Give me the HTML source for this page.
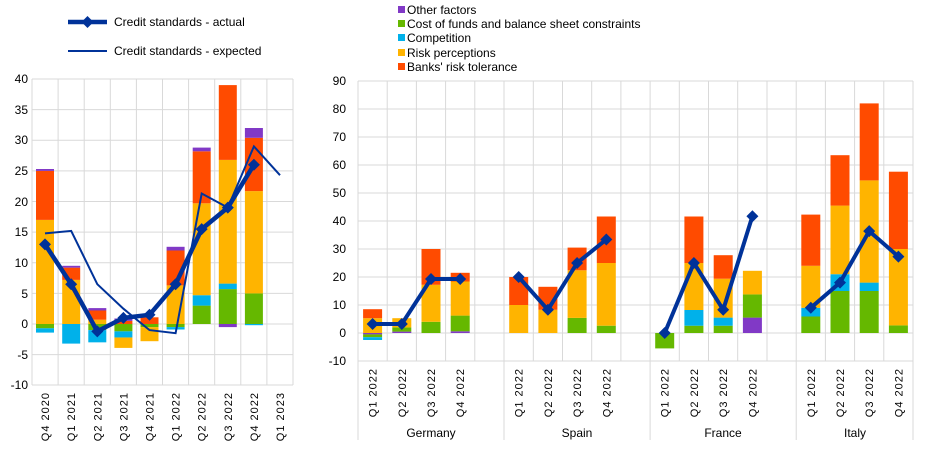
<!DOCTYPE html>
<html><head><meta charset="utf-8"><style>body{margin:0;background:#fff}svg{display:block;font-family:"Liberation Sans",sans-serif;font-size:12px;fill:#000}</style></head><body>
<svg width="940" height="460" xmlns="http://www.w3.org/2000/svg">
<g stroke="#d9d9d9" stroke-width="1">
<line x1="32" y1="79" x2="293" y2="79"/><line x1="32" y1="109.6" x2="293" y2="109.6"/><line x1="32" y1="140.25" x2="293" y2="140.25"/><line x1="32" y1="170.9" x2="293" y2="170.9"/><line x1="32" y1="201.5" x2="293" y2="201.5"/><line x1="32" y1="232.1" x2="293" y2="232.1"/><line x1="32" y1="262.75" x2="293" y2="262.75"/><line x1="32" y1="293.4" x2="293" y2="293.4"/><line x1="32" y1="324" x2="293" y2="324"/><line x1="32" y1="354.6" x2="293" y2="354.6"/><line x1="32" y1="385" x2="293" y2="385"/>
<line x1="32" y1="79" x2="32" y2="385"/><line x1="58.1" y1="79" x2="58.1" y2="385"/><line x1="84.2" y1="79" x2="84.2" y2="385"/><line x1="110.3" y1="79" x2="110.3" y2="385"/><line x1="136.4" y1="79" x2="136.4" y2="385"/><line x1="162.5" y1="79" x2="162.5" y2="385"/><line x1="188.6" y1="79" x2="188.6" y2="385"/><line x1="214.7" y1="79" x2="214.7" y2="385"/><line x1="240.8" y1="79" x2="240.8" y2="385"/><line x1="266.9" y1="79" x2="266.9" y2="385"/><line x1="293" y1="79" x2="293" y2="385"/>
</g>
<g text-anchor="end">
<text x="28" y="83">40</text><text x="28" y="114">35</text><text x="28" y="144">30</text><text x="28" y="175">25</text><text x="28" y="206">20</text><text x="28" y="236">15</text><text x="28" y="267">10</text><text x="28" y="298">5</text><text x="28" y="328">0</text><text x="28" y="359">-5</text><text x="28" y="389">-10</text>
</g>
<g>
<rect x="36" y="324" width="18" height="4.3" fill="#65b800"/><rect x="36" y="328.3" width="18" height="4.3" fill="#00b1ea"/><rect x="36" y="219.9" width="18" height="104.1" fill="#ffb400"/><rect x="36" y="170.9" width="18" height="49" fill="#ff4b00"/><rect x="36" y="169" width="18" height="1.9" fill="#8139c6"/>
<rect x="62.2" y="324" width="18" height="19.6" fill="#00b1ea"/><rect x="62.2" y="279.9" width="18" height="44.1" fill="#ffb400"/><rect x="62.2" y="267.65" width="18" height="12.25" fill="#ff4b00"/><rect x="62.2" y="265.8" width="18" height="1.85" fill="#8139c6"/>
<rect x="88.3" y="324" width="18" height="6.1" fill="#65b800"/><rect x="88.3" y="330.1" width="18" height="12.25" fill="#00b1ea"/><rect x="88.3" y="319.7" width="18" height="4.3" fill="#ffb400"/><rect x="88.3" y="310.5" width="18" height="9.2" fill="#ff4b00"/><rect x="88.3" y="308.1" width="18" height="2.4" fill="#8139c6"/>
<rect x="114.4" y="324" width="18" height="7.35" fill="#65b800"/><rect x="114.4" y="331.35" width="18" height="6.1" fill="#00b1ea"/><rect x="114.4" y="337.5" width="18" height="10.4" fill="#ffb400"/><rect x="114.4" y="320.9" width="18" height="3.1" fill="#ff4b00"/><rect x="114.4" y="318.5" width="18" height="2.4" fill="#8139c6"/>
<rect x="140.5" y="324" width="18" height="3.1" fill="#65b800"/><rect x="140.5" y="327.1" width="18" height="14.1" fill="#ffb400"/><rect x="140.5" y="317.3" width="18" height="6.7" fill="#ff4b00"/>
<rect x="166.6" y="324" width="18" height="3.1" fill="#65b800"/><rect x="166.6" y="327.1" width="18" height="2.4" fill="#00b1ea"/><rect x="166.6" y="285.4" width="18" height="38.6" fill="#ffb400"/><rect x="166.6" y="250.5" width="18" height="34.9" fill="#ff4b00"/><rect x="166.6" y="246.8" width="18" height="3.7" fill="#8139c6"/>
<rect x="192.7" y="305.6" width="18" height="18.4" fill="#65b800"/><rect x="192.7" y="295.2" width="18" height="10.4" fill="#00b1ea"/><rect x="192.7" y="203.3" width="18" height="91.9" fill="#ffb400"/><rect x="192.7" y="151.3" width="18" height="52" fill="#ff4b00"/><rect x="192.7" y="147.6" width="18" height="3.7" fill="#8139c6"/>
<rect x="218.8" y="324" width="18" height="3.1" fill="#8139c6"/><rect x="218.8" y="289.1" width="18" height="34.9" fill="#65b800"/><rect x="218.8" y="283.6" width="18" height="5.5" fill="#00b1ea"/><rect x="218.8" y="159.9" width="18" height="123.7" fill="#ffb400"/><rect x="218.8" y="85.1" width="18" height="74.8" fill="#ff4b00"/>
<rect x="244.9" y="324" width="18" height="1.2" fill="#00b1ea"/><rect x="244.9" y="293.4" width="18" height="30.6" fill="#65b800"/><rect x="244.9" y="191.1" width="18" height="102.3" fill="#ffb400"/><rect x="244.9" y="137.8" width="18" height="53.3" fill="#ff4b00"/><rect x="244.9" y="128" width="18" height="9.8" fill="#8139c6"/>
</g>
<polyline points="45,233.35 71.2,230.9 97.3,284.2 123.4,308.7 149.5,330.1 175.6,333.2 201.7,193.5 227.8,207.6 253.9,146.4 280,175.2" fill="none" stroke="#003299" stroke-width="2"/>
<polyline points="45,244.4 71.2,284.2 97.3,331.35 123.4,317.9 149.5,314.8 175.6,284.2 201.7,229.1 227.8,207.6 253.9,164.75" fill="none" stroke="#003299" stroke-width="4.5"/>
<g fill="#003299">
<path d="M45,238.4l6,6-6,6-6-6z"/><path d="M71.2,278.2l6,6-6,6-6-6z"/><path d="M97.3,325.35l6,6-6,6-6-6z"/><path d="M123.4,311.9l6,6-6,6-6-6z"/><path d="M149.5,308.8l6,6-6,6-6-6z"/><path d="M175.6,278.2l6,6-6,6-6-6z"/><path d="M201.7,223.1l6,6-6,6-6-6z"/><path d="M227.8,201.6l6,6-6,6-6-6z"/><path d="M253.9,158.75l6,6-6,6-6-6z"/>
</g>
<g font-size="11" letter-spacing="1" text-anchor="end">
<text transform="translate(49,392) rotate(-90)">Q4 2020</text><text transform="translate(75.2,392) rotate(-90)">Q1 2021</text><text transform="translate(101.3,392) rotate(-90)">Q2 2021</text><text transform="translate(127.4,392) rotate(-90)">Q3 2021</text><text transform="translate(153.5,392) rotate(-90)">Q4 2021</text><text transform="translate(179.6,392) rotate(-90)">Q1 2022</text><text transform="translate(205.7,392) rotate(-90)">Q2 2022</text><text transform="translate(231.8,392) rotate(-90)">Q3 2022</text><text transform="translate(257.9,392) rotate(-90)">Q4 2022</text><text transform="translate(284,392) rotate(-90)">Q1 2023</text>
</g>
<line x1="68" y1="22" x2="107" y2="22" stroke="#003299" stroke-width="4.5"/><path d="M87.5,16l6,6-6,6-6-6z" fill="#003299"/>
<text x="114" y="26">Credit standards - actual</text>
<line x1="68" y1="51" x2="107" y2="51" stroke="#003299" stroke-width="2"/>
<text x="114" y="55">Credit standards - expected</text>
<g font-size="12">
<rect x="398" y="6" width="7" height="7" fill="#8139c6"/><text x="407" y="14">Other factors</text>
<rect x="398" y="20" width="7" height="7" fill="#65b800"/><text x="407" y="28">Cost of funds and balance sheet constraints</text>
<rect x="398" y="34" width="7" height="7" fill="#00b1ea"/><text x="407" y="42">Competition</text>
<rect x="398" y="49" width="7" height="7" fill="#ffb400"/><text x="407" y="57">Risk perceptions</text>
<rect x="398" y="63" width="7" height="7" fill="#ff4b00"/><text x="407" y="71">Banks' risk tolerance</text>
</g>
<g stroke="#d9d9d9" stroke-width="1">
<line x1="358" y1="81" x2="913" y2="81"/><line x1="358" y1="109" x2="913" y2="109"/><line x1="358" y1="137" x2="913" y2="137"/><line x1="358" y1="165" x2="913" y2="165"/><line x1="358" y1="193" x2="913" y2="193"/><line x1="358" y1="221" x2="913" y2="221"/><line x1="358" y1="249" x2="913" y2="249"/><line x1="358" y1="277" x2="913" y2="277"/><line x1="358" y1="305" x2="913" y2="305"/><line x1="358" y1="333" x2="913" y2="333"/><line x1="358" y1="361" x2="913" y2="361"/>
<line x1="358" y1="81" x2="358" y2="440"/><line x1="387.2" y1="81" x2="387.2" y2="361"/><line x1="416.4" y1="81" x2="416.4" y2="361"/><line x1="445.6" y1="81" x2="445.6" y2="361"/><line x1="474.8" y1="81" x2="474.8" y2="361"/><line x1="504" y1="81" x2="504" y2="440"/><line x1="533.3" y1="81" x2="533.3" y2="361"/><line x1="562.5" y1="81" x2="562.5" y2="361"/><line x1="591.7" y1="81" x2="591.7" y2="361"/><line x1="620.9" y1="81" x2="620.9" y2="361"/><line x1="650.1" y1="81" x2="650.1" y2="440"/><line x1="679.3" y1="81" x2="679.3" y2="361"/><line x1="708.5" y1="81" x2="708.5" y2="361"/><line x1="737.7" y1="81" x2="737.7" y2="361"/><line x1="767" y1="81" x2="767" y2="361"/><line x1="796.2" y1="81" x2="796.2" y2="440"/><line x1="825.4" y1="81" x2="825.4" y2="361"/><line x1="854.6" y1="81" x2="854.6" y2="361"/><line x1="883.8" y1="81" x2="883.8" y2="361"/><line x1="913" y1="81" x2="913" y2="440"/>
</g>
<g text-anchor="end">
<text x="346" y="85">90</text><text x="346" y="113">80</text><text x="346" y="141">70</text><text x="346" y="169">60</text><text x="346" y="197">50</text><text x="346" y="225">40</text><text x="346" y="253">30</text><text x="346" y="281">20</text><text x="346" y="309">10</text><text x="346" y="337">0</text><text x="346" y="365">-10</text>
</g>
<g>
<rect x="363.1" y="333" width="19" height="1.4" fill="#8139c6"/><rect x="363.1" y="334.4" width="19" height="2.8" fill="#65b800"/><rect x="363.1" y="337.2" width="19" height="2.8" fill="#00b1ea"/><rect x="363.1" y="318.2" width="19" height="14.8" fill="#ffb400"/><rect x="363.1" y="309.2" width="19" height="9" fill="#ff4b00"/>
<rect x="392.3" y="331.6" width="19" height="1.4" fill="#8139c6"/><rect x="392.3" y="327.4" width="19" height="4.2" fill="#65b800"/><rect x="392.3" y="318.2" width="19" height="9.2" fill="#ffb400"/>
<rect x="421.5" y="321.8" width="19" height="11.2" fill="#65b800"/><rect x="421.5" y="284.8" width="19" height="37" fill="#ffb400"/><rect x="421.5" y="249" width="19" height="35.8" fill="#ff4b00"/>
<rect x="450.7" y="331.3" width="19" height="1.7" fill="#8139c6"/><rect x="450.7" y="315.6" width="19" height="15.7" fill="#65b800"/><rect x="450.7" y="281.5" width="19" height="34.1" fill="#ffb400"/><rect x="450.7" y="272.8" width="19" height="8.7" fill="#ff4b00"/>
<rect x="509.2" y="305" width="19" height="28" fill="#ffb400"/><rect x="509.2" y="277" width="19" height="28" fill="#ff4b00"/>
<rect x="538.4" y="309.8" width="19" height="23.2" fill="#ffb400"/><rect x="538.4" y="286.8" width="19" height="23" fill="#ff4b00"/>
<rect x="567.6" y="317.9" width="19" height="15.1" fill="#65b800"/><rect x="567.6" y="270.3" width="19" height="47.6" fill="#ffb400"/><rect x="567.6" y="247.6" width="19" height="22.7" fill="#ff4b00"/>
<rect x="596.8" y="325.7" width="19" height="7.3" fill="#65b800"/><rect x="596.8" y="263" width="19" height="62.7" fill="#ffb400"/><rect x="596.8" y="216.5" width="19" height="46.5" fill="#ff4b00"/>
<rect x="655.2" y="333" width="19" height="15.4" fill="#65b800"/>
<rect x="684.4" y="325.7" width="19" height="7.3" fill="#65b800"/><rect x="684.4" y="310" width="19" height="15.7" fill="#00b1ea"/><rect x="684.4" y="263" width="19" height="47" fill="#ffb400"/><rect x="684.4" y="216.5" width="19" height="46.5" fill="#ff4b00"/>
<rect x="713.7" y="325.7" width="19" height="7.3" fill="#65b800"/><rect x="713.7" y="317.6" width="19" height="8.1" fill="#00b1ea"/><rect x="713.7" y="278.7" width="19" height="38.9" fill="#ffb400"/><rect x="713.7" y="255.2" width="19" height="23.5" fill="#ff4b00"/>
<rect x="742.9" y="317.6" width="19" height="15.4" fill="#8139c6"/><rect x="742.9" y="294.4" width="19" height="23.2" fill="#65b800"/><rect x="742.9" y="270.8" width="19" height="23.6" fill="#ffb400"/>
<rect x="801.3" y="316.5" width="19" height="16.5" fill="#65b800"/><rect x="801.3" y="307.8" width="19" height="8.7" fill="#00b1ea"/><rect x="801.3" y="265.8" width="19" height="42" fill="#ffb400"/><rect x="801.3" y="214.6" width="19" height="51.2" fill="#ff4b00"/>
<rect x="830.5" y="291" width="19" height="42" fill="#65b800"/><rect x="830.5" y="274.2" width="19" height="16.8" fill="#00b1ea"/><rect x="830.5" y="205.6" width="19" height="68.6" fill="#ffb400"/><rect x="830.5" y="155.2" width="19" height="50.4" fill="#ff4b00"/>
<rect x="859.7" y="291" width="19" height="42" fill="#65b800"/><rect x="859.7" y="282.6" width="19" height="8.4" fill="#00b1ea"/><rect x="859.7" y="180.4" width="19" height="102.2" fill="#ffb400"/><rect x="859.7" y="103.4" width="19" height="77" fill="#ff4b00"/>
<rect x="888.9" y="325.4" width="19" height="7.6" fill="#65b800"/><rect x="888.9" y="249" width="19" height="76.4" fill="#ffb400"/><rect x="888.9" y="171.7" width="19" height="77.3" fill="#ff4b00"/>
</g>
<g fill="none" stroke="#003299" stroke-width="4">
<polyline points="372.6,324 401.8,324 431,279 460.2,279"/>
<polyline points="518.7,277 547.9,309.8 577.1,263 606.3,239.5"/>
<polyline points="664.7,333 693.9,263 723.2,309.8 752.4,216.2"/>
<polyline points="810.8,307.8 840,282.6 869.2,231.1 898.4,256.6"/>
</g>
<g fill="#003299">
<path d="M372.6,318l6,6-6,6-6-6z"/><path d="M401.8,318l6,6-6,6-6-6z"/><path d="M431,273l6,6-6,6-6-6z"/><path d="M460.2,273l6,6-6,6-6-6z"/>
<path d="M518.7,271l6,6-6,6-6-6z"/><path d="M547.9,303.8l6,6-6,6-6-6z"/><path d="M577.1,257l6,6-6,6-6-6z"/><path d="M606.3,233.5l6,6-6,6-6-6z"/>
<path d="M664.7,327l6,6-6,6-6-6z"/><path d="M693.9,257l6,6-6,6-6-6z"/><path d="M723.2,303.8l6,6-6,6-6-6z"/><path d="M752.4,210.2l6,6-6,6-6-6z"/>
<path d="M810.8,301.8l6,6-6,6-6-6z"/><path d="M840,276.6l6,6-6,6-6-6z"/><path d="M869.2,225.1l6,6-6,6-6-6z"/><path d="M898.4,250.6l6,6-6,6-6-6z"/>
</g>
<g font-size="11" letter-spacing="1" text-anchor="end">
<text transform="translate(376.6,368) rotate(-90)">Q1 2022</text><text transform="translate(405.8,368) rotate(-90)">Q2 2022</text><text transform="translate(435,368) rotate(-90)">Q3 2022</text><text transform="translate(464.2,368) rotate(-90)">Q4 2022</text>
<text transform="translate(522.7,368) rotate(-90)">Q1 2022</text><text transform="translate(551.9,368) rotate(-90)">Q2 2022</text><text transform="translate(581.1,368) rotate(-90)">Q3 2022</text><text transform="translate(610.3,368) rotate(-90)">Q4 2022</text>
<text transform="translate(668.7,368) rotate(-90)">Q1 2022</text><text transform="translate(697.9,368) rotate(-90)">Q2 2022</text><text transform="translate(727.2,368) rotate(-90)">Q3 2022</text><text transform="translate(756.4,368) rotate(-90)">Q4 2022</text>
<text transform="translate(814.8,368) rotate(-90)">Q1 2022</text><text transform="translate(844,368) rotate(-90)">Q2 2022</text><text transform="translate(873.2,368) rotate(-90)">Q3 2022</text><text transform="translate(902.4,368) rotate(-90)">Q4 2022</text>
</g>
<g text-anchor="middle">
<text x="431" y="437">Germany</text><text x="577" y="437">Spain</text><text x="723" y="437">France</text><text x="855" y="437">Italy</text>
</g>
</svg>
</body></html>
